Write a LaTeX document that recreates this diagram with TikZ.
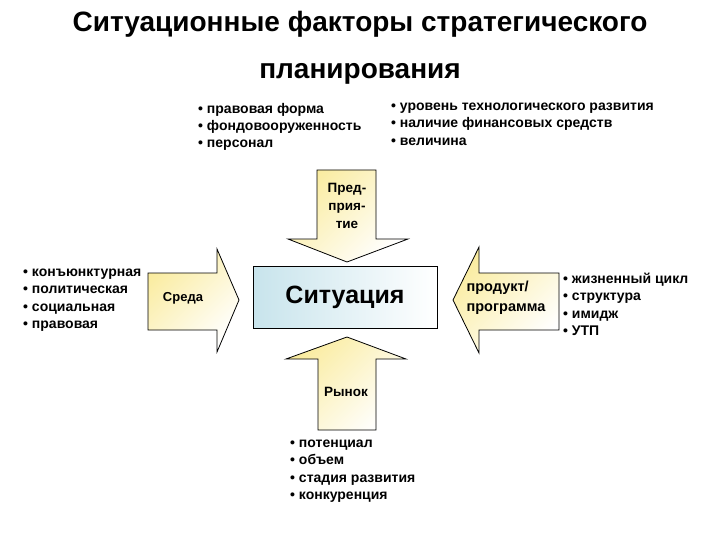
\documentclass[tikz,border=0pt]{standalone}
\usepackage{fontspec}
\setmainfont{Liberation Sans}
\usetikzlibrary{positioning}
\definecolor{ArrowYellow}{RGB}{250,236,160}
\definecolor{BoxBlue}{RGB}{200,228,236}

\tikzset{
  bigarrow/.style={draw=black, thick, top color=ArrowYellow, bottom color=white, shading angle=45},
  bullets/.style={anchor=north west, inner sep=0pt, align=left,
    font=\fontsize{14}{17.2}\selectfont\bfseries},
  arrowlabel/.style={inner sep=0pt, align=center, font=\fontsize{13.5}{18.3}\selectfont\bfseries}
}

\begin{document}
\begin{tikzpicture}[x=1pt,y=-1pt]
  \useasboundingbox[fill=white] (0,0) rectangle (720,540);

  % title
  \node[align=center, font=\fontsize{28}{47}\selectfont\bfseries] (title) at (360,48)
    {Ситуационные факторы стратегического\\планирования};

  % four arrows
  \draw[bigarrow] (317,170) -- (376,170) -- (376,239) -- (408,239) -- (347,262)
    -- (288,239) -- (317,239) -- cycle;
  \draw[bigarrow] (347,337) -- (406,359) -- (376,359) -- (376,430) -- (318,430)
    -- (318,359) -- (286,359) -- cycle;
  \draw[bigarrow] (148,273) -- (217,273) -- (217,249) -- (239,300) -- (217,352)
    -- (217,330) -- (148,330) -- cycle;
  \draw[bigarrow] (453,300) -- (479,247) -- (479,273) -- (559,273) -- (559,330)
    -- (479,330) -- (479,353) -- cycle;

  % centre
  \node[draw=black, thick, left color=BoxBlue, right color=white, minimum width=184pt,
    minimum height=62pt, inner sep=0pt, font=\fontsize{25}{30}\selectfont\bfseries]
    (situation) at (345,297) {Ситуация};

  \node[arrowlabel] (enterprise) at (347,206) {Пред-\\прия-\\тие};
  \node[arrowlabel] (market) at (346,392) {Рынок};
  \node[arrowlabel, font=\fontsize{13}{18}\selectfont\bfseries] (environment) at (183,298) {Среда};
  \node[arrowlabel, align=left, font=\fontsize{14.5}{20}\selectfont\bfseries]
    (product) at (506,298) {продукт/\\программа};

  % factor lists
  \node[bullets] (entfactorsA) at (198,103)
    {• правовая форма\\• фондовооруженность\\• персонал};
  \node[bullets] (entfactorsB) at (391,103)
    {• уровень технологического развития\\• наличие финансовых средств\\• величина};
  \node[bullets] (envfactors) at (23,269)
    {• конъюнктурная\\• политическая\\• социальная\\• правовая};
  \node[bullets] (prodfactors) at (563,273)
    {• жизненный цикл\\• структура\\• имидж\\• УТП};
  \node[bullets] (mktfactors) at (290,440)
    {• потенциал\\• объем\\• стадия развития\\• конкуренция};
\end{tikzpicture}
\end{document}
